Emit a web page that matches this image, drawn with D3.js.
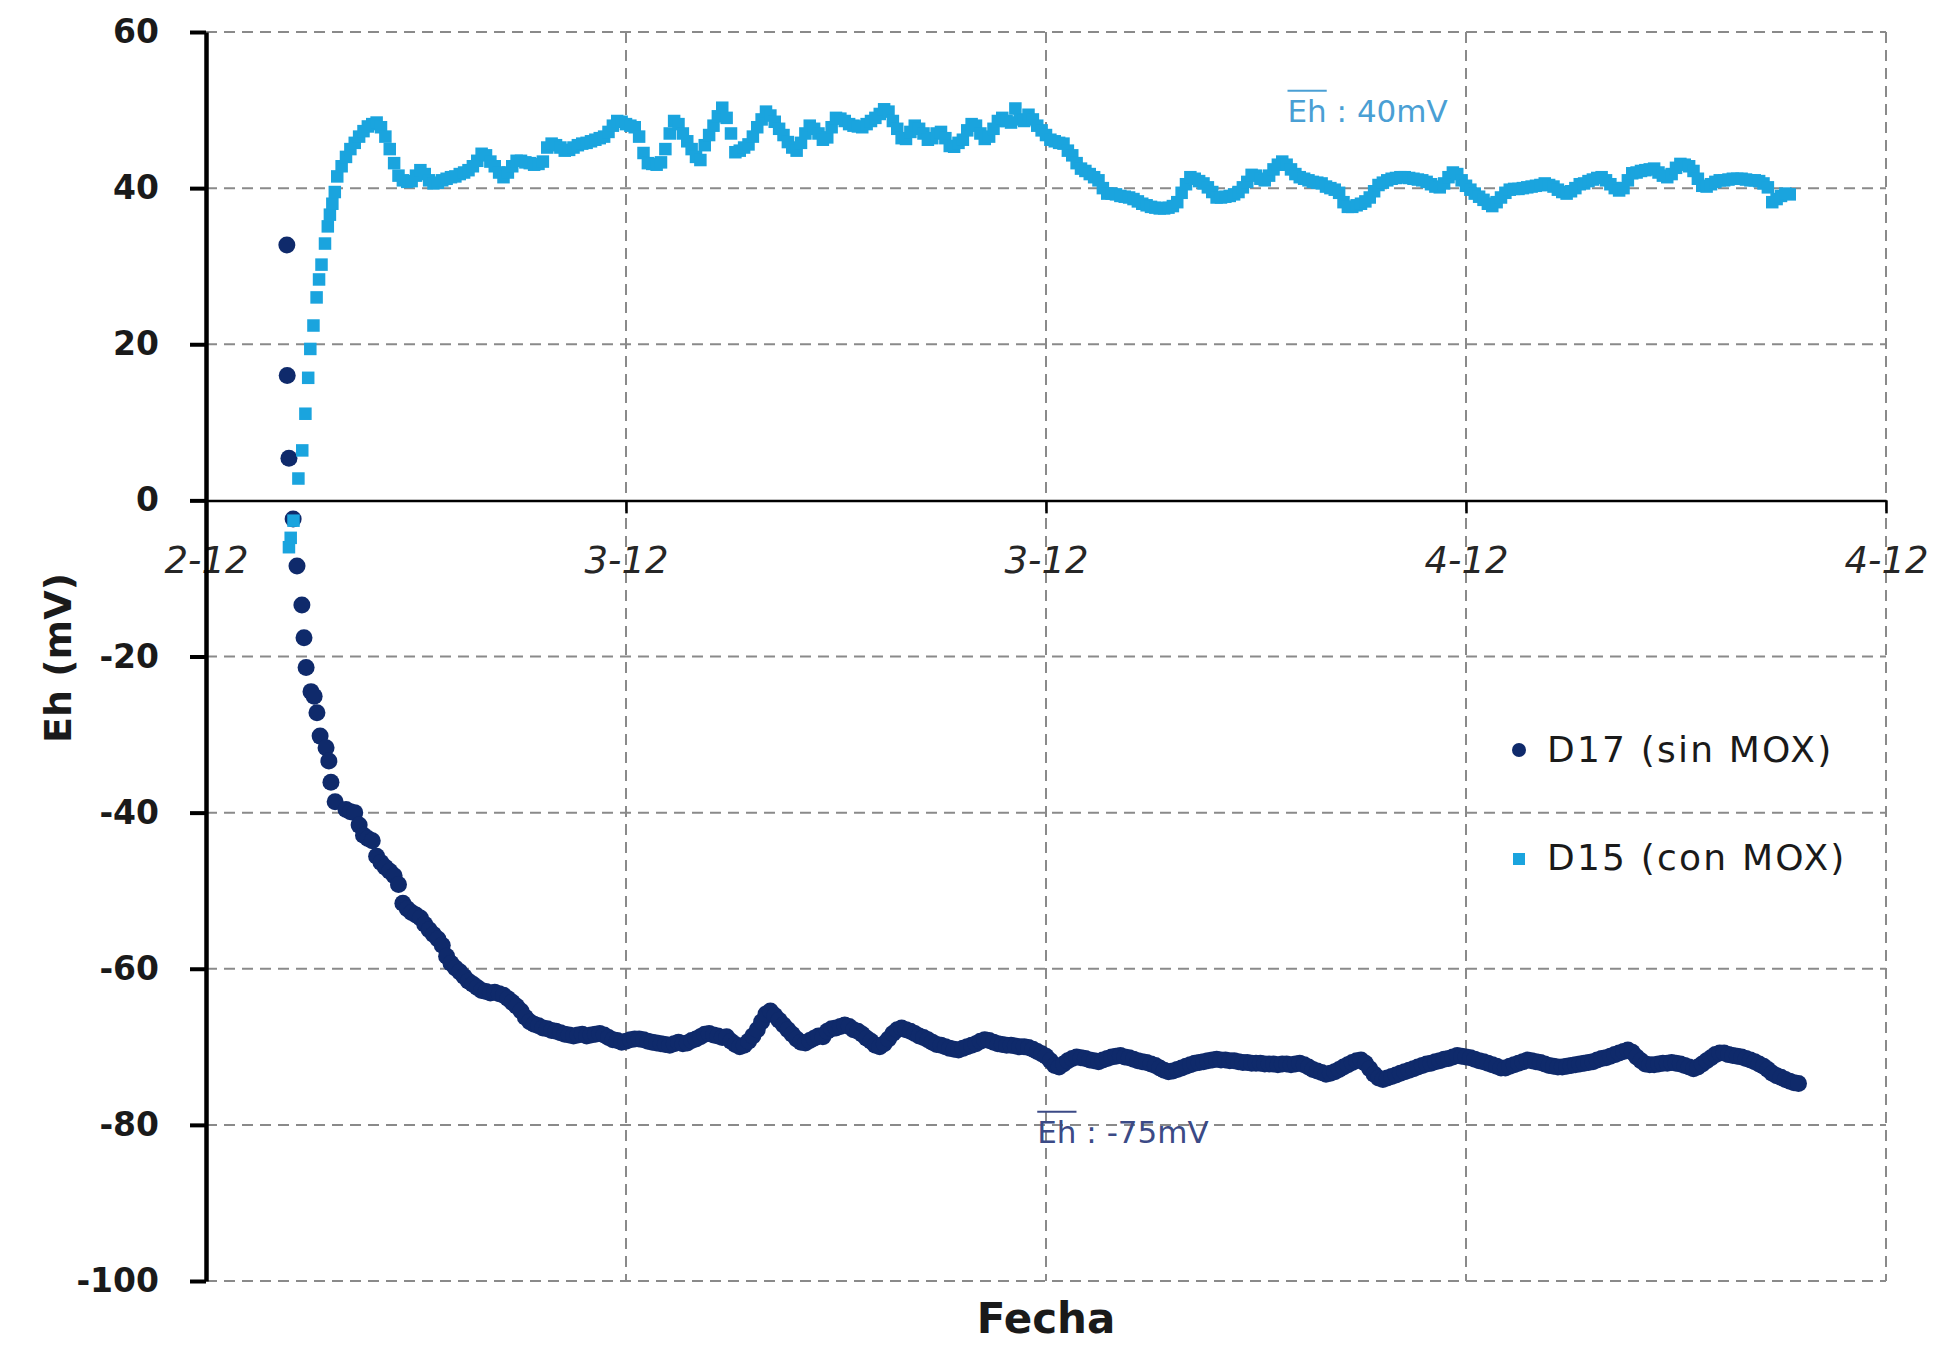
<!DOCTYPE html>
<html>
<head>
<meta charset="utf-8">
<script src="https://cdn.jsdelivr.net/npm/d3@7"></script>
<style>
  html, body { margin: 0; padding: 0; background: #ffffff; }
  svg { display: block; }
</style>
</head>
<body>
<svg id="chart" width="1937" height="1346"></svg>
<script>
// Eh logged in two columns; time is counted in hours from noon of 2-12.
const seriesNames = ["D17 (sin MOX)", "D15 (con MOX)"];
const meanEh = [-75, 40];

const xTickHours = [0, 12, 24, 36, 48];
const xTickLabels = ["2-12", "3-12", "3-12", "4-12", "4-12"];
const yTicks = [-100, -80, -60, -40, -20, 0, 20, 40, 60];

// once the electrodes settle the logger records every 7.5 minutes
const sampleStepHours = 0.125;

// D17 (sin MOX): first readings while the electrode settles
const d17EarlyHours = [2.31, 2.32, 2.37, 2.49, 2.60, 2.74, 2.80, 2.86, 3.00, 3.09, 3.17, 3.26, 3.43, 3.51, 3.57, 3.69];
const d17EarlyMv = [32.7, 16.0, 5.4, -2.4, -8.4, -13.4, -17.6, -21.4, -24.5, -25.1, -27.2, -30.2, -31.7, -33.4, -36.1, -38.6];
// regular readings from hour 4, one row per hour
const d17RegularStart = 4.0;
const d17Mv = [
  -39.6, -39.9, -40.0, -41.6, -42.9, -43.3, -43.6, -45.6,
  -46.4, -47.0, -47.5, -48.1, -49.2, -51.6, -52.3, -52.8,
  -53.1, -53.5, -54.3, -55.0, -55.6, -56.2, -57.0, -58.4,
  -59.3, -59.9, -60.4, -61.0, -61.6, -62.0, -62.4, -62.8,
  -62.9, -63.1, -63.0, -63.2, -63.4, -63.8, -64.3, -64.8,
  -65.4, -66.2, -66.8, -67.1, -67.3, -67.6, -67.7, -67.9,
  -68.0, -68.2, -68.4, -68.5, -68.6, -68.5, -68.4, -68.6,
  -68.5, -68.4, -68.3, -68.5, -68.8, -69.1, -69.2, -69.4,
  -69.3, -69.1, -69.0, -69.0, -69.1, -69.3, -69.4, -69.5,
  -69.6, -69.7, -69.8, -69.6, -69.4, -69.6, -69.5, -69.2,
  -69.0, -68.7, -68.4, -68.3, -68.5, -68.6, -68.8, -68.7,
  -69.3, -69.7, -70.0, -69.8, -69.3, -68.6, -67.8, -66.8,
  -65.8, -65.4, -66.0, -66.6, -67.2, -67.8, -68.4, -69.0,
  -69.4, -69.5, -69.2, -68.9, -68.6, -68.7, -68.0, -67.7,
  -67.6, -67.4, -67.2, -67.4, -67.8, -68.0, -68.4, -68.9,
  -69.3, -69.8, -70.0, -69.6, -69.0, -68.3, -67.8, -67.6,
  -67.8, -68.0, -68.3, -68.6, -68.8, -69.1, -69.4, -69.7,
  -69.8, -70.0, -70.2, -70.3, -70.4, -70.2, -70.0, -69.8,
  -69.6, -69.3, -69.1, -69.2, -69.4, -69.6, -69.7, -69.8,
  -69.8, -69.9, -70.0, -70.0, -70.1, -70.3, -70.6, -70.9,
  -71.2, -71.8, -72.4, -72.6, -72.2, -71.8, -71.5, -71.3,
  -71.4, -71.5, -71.7, -71.8, -71.9, -71.7, -71.5, -71.3,
  -71.2, -71.1, -71.3, -71.4, -71.6, -71.8, -71.9, -72.0,
  -72.2, -72.4, -72.7, -73.0, -73.2, -73.1, -72.9, -72.7,
  -72.5, -72.3, -72.1, -72.0, -71.9, -71.8, -71.7, -71.6,
  -71.7, -71.7, -71.8, -71.8, -71.9, -72.0, -72.0, -72.1,
  -72.1, -72.1, -72.2, -72.2, -72.2, -72.3, -72.2, -72.2,
  -72.3, -72.2, -72.1, -72.3, -72.6, -72.9, -73.1, -73.3,
  -73.5, -73.4, -73.2, -72.9, -72.6, -72.3, -72.0, -71.8,
  -71.7, -72.1, -72.8, -73.5, -74.0, -74.2, -74.0, -73.8,
  -73.6, -73.4, -73.2, -73.0, -72.8, -72.6, -72.4, -72.2,
  -72.1, -71.9, -71.8, -71.6, -71.5, -71.3, -71.1, -71.2,
  -71.3, -71.4, -71.6, -71.8, -71.9, -72.1, -72.3, -72.5,
  -72.7, -72.7, -72.5, -72.3, -72.1, -71.9, -71.7, -71.8,
  -71.9, -72.0, -72.2, -72.4, -72.5, -72.6, -72.6, -72.5,
  -72.4, -72.3, -72.2, -72.1, -72.0, -71.9, -71.7, -71.5,
  -71.4, -71.2, -71.0, -70.8, -70.6, -70.4, -70.7, -71.3,
  -71.8, -72.2, -72.3, -72.3, -72.2, -72.1, -72.1, -72.0,
  -72.1, -72.2, -72.4, -72.6, -72.8, -72.6, -72.2, -71.8,
  -71.4, -71.0, -70.8, -70.8, -71.0, -71.1, -71.2, -71.3,
  -71.5, -71.7, -71.9, -72.2, -72.5, -72.9, -73.4, -73.7,
  -73.9, -74.2, -74.4, -74.6, -74.7
];

// D15 (con MOX): first readings while the electrode settles
const d15EarlyHours = [2.37, 2.42, 2.50, 2.64, 2.75, 2.84, 2.92, 2.98, 3.07, 3.16, 3.23, 3.30, 3.40, 3.48, 3.54, 3.61, 3.68];
const d15EarlyMv = [-6.0, -4.8, -2.6, 2.8, 6.4, 11.1, 15.7, 19.4, 22.4, 26.0, 28.3, 30.2, 32.9, 35.1, 36.6, 38.0, 39.5];
// regular readings from hour 3.75, rows from hour 4 on hold one hour each
const d15RegularStart = 3.75;
const d15Mv = [
  41.5, 42.8,
  44.0, 45.0, 45.8, 46.6, 47.3, 47.9, 48.2, 48.4,
  47.8, 46.6, 45.0, 43.2, 41.6, 41.0, 40.8, 40.9,
  41.6, 42.3, 41.8, 41.0, 40.6, 40.7, 41.0, 41.2,
  41.4, 41.5, 41.8, 42.0, 42.3, 42.8, 43.5, 44.4,
  44.2, 43.4, 42.8, 42.0, 41.4, 42.0, 42.8, 43.5,
  43.5, 43.3, 43.2, 43.0, 43.1, 43.4, 45.2, 45.7,
  45.5, 45.2, 44.8, 44.9, 45.2, 45.5, 45.7, 45.8,
  46.0, 46.2, 46.4, 46.6, 47.2, 48.0, 48.6, 48.5,
  48.2, 48.0, 47.8, 46.6, 44.5, 43.2, 43.1, 43.0,
  43.3, 45.0, 47.0, 48.6, 48.2, 47.0, 46.0, 45.0,
  44.0, 43.6, 45.5, 46.8, 48.0, 49.2, 50.3, 49.0,
  47.0, 44.6, 44.8, 45.2, 45.6, 46.6, 47.8, 48.8,
  49.8, 49.3, 48.5, 47.6, 46.8, 45.9, 45.2, 44.8,
  45.8, 47.0, 48.0, 47.6, 47.0, 46.2, 46.5, 47.8,
  49.0, 48.9, 48.6, 48.2, 48.0, 47.9, 47.8, 48.2,
  48.6, 49.0, 49.5, 50.1, 49.8, 48.6, 47.6, 46.4,
  46.3, 47.2, 48.0, 47.6, 47.0, 46.2, 46.4, 47.0,
  47.2, 46.4, 45.4, 45.3, 45.8, 46.2, 47.4, 48.2,
  48.0, 47.0, 46.3, 46.6, 47.6, 48.6, 49.0, 48.6,
  48.4, 50.2, 48.8, 48.6, 49.4, 48.8, 48.0, 47.4,
  46.8, 46.2, 46.0, 45.8, 45.7, 44.8, 44.2, 43.2,
  42.5, 42.2, 41.8, 41.4, 41.0, 40.0, 39.3, 39.3,
  39.2, 39.0, 38.9, 38.8, 38.6, 38.3, 38.0, 37.8,
  37.6, 37.5, 37.4, 37.4, 37.5, 37.7, 38.2, 39.4,
  40.5, 41.4, 41.2, 40.9, 40.6, 40.1, 39.5, 38.8,
  38.8, 38.9, 39.0, 39.2, 39.5, 40.1, 40.8, 41.7,
  41.6, 41.2, 41.0, 41.6, 42.4, 43.0, 43.4, 43.0,
  42.4, 41.8, 41.4, 41.2, 41.0, 40.8, 40.7, 40.6,
  40.2, 40.0, 39.8, 39.4, 38.2, 37.6, 37.6, 37.8,
  38.0, 38.3, 38.8, 39.6, 40.4, 40.7, 41.0, 41.2,
  41.3, 41.4, 41.4, 41.3, 41.2, 41.1, 41.0, 40.8,
  40.5, 40.2, 40.1, 40.6, 41.4, 42.0, 41.8, 41.0,
  40.3, 39.8, 39.3, 38.9, 38.5, 38.0, 37.7, 38.2,
  38.8, 39.4, 39.8, 39.9, 39.9, 40.0, 40.1, 40.2,
  40.3, 40.4, 40.6, 40.4, 40.2, 39.8, 39.5, 39.3,
  39.6, 40.0, 40.5, 40.6, 40.9, 41.1, 41.3, 41.4,
  41.0, 40.5, 40.0, 39.7, 40.0, 41.0, 41.9, 42.0,
  42.2, 42.3, 42.4, 42.5, 42.0, 41.6, 41.4, 41.8,
  42.6, 43.1, 43.0, 42.8, 42.2, 41.2, 40.3, 40.2,
  40.5, 40.8, 41.0, 41.0, 41.1, 41.2, 41.2, 41.2,
  41.1, 41.0, 41.0, 40.9, 40.6, 40.1, 38.2, 38.6,
  39.0, 39.3, 39.2
];

// ---------------------------------------------------------------------------
function buildSeries(earlyHours, earlyMv, regularStart, regularMv) {
  const pts = earlyHours.map((h, i) => ({ h, v: earlyMv[i] }));
  regularMv.forEach((v, i) => pts.push({ h: regularStart + i * sampleStepHours, v }));
  return pts;
}
const d17 = buildSeries(d17EarlyHours, d17EarlyMv, d17RegularStart, d17Mv);
const d15 = buildSeries(d15EarlyHours, d15EarlyMv, d15RegularStart, d15Mv);

const NAVY = "#0f2a6b";
const CYAN = "#1aa4de";
const FONT = "'DejaVu Sans', 'Liberation Sans', sans-serif";

const svg = d3.select("#chart");
const x = d3.scaleLinear().domain([0, 48]).range([206, 1886]);
const y = d3.scaleLinear().domain([-100, 60]).range([1281, 32]);

// dashed grid
const grid = svg.append("g").attr("stroke", "#8a8a8a").attr("stroke-width", 2)
  .attr("stroke-dasharray", "11,7").attr("fill", "none");
grid.selectAll("line.h").data(yTicks.filter(t => t !== 0)).join("line")
  .attr("class", "h")
  .attr("x1", x(0)).attr("x2", x(48))
  .attr("y1", d => y(d)).attr("y2", d => y(d));
grid.selectAll("line.v").data(xTickHours.slice(1)).join("line")
  .attr("class", "v")
  .attr("x1", d => x(d)).attr("x2", d => x(d))
  .attr("y1", y(60)).attr("y2", y(-100));

// horizontal axis through 0 mV
const xAxis = svg.append("g")
  .attr("transform", `translate(0,${y(0)})`)
  .call(d3.axisBottom(x)
    .tickValues(xTickHours)
    .tickFormat((d, i) => xTickLabels[i])
    .tickSize(13).tickSizeOuter(0).tickPadding(33));
xAxis.select(".domain").attr("stroke", "#000").attr("stroke-width", 2.5);
xAxis.selectAll(".tick line").attr("stroke", "#000").attr("stroke-width", 2.5);
xAxis.selectAll(".tick text")
  .attr("font-family", FONT).attr("font-size", 37).attr("font-style", "italic")
  .attr("fill", "#262626");

// vertical axis
const yAxis = svg.append("g")
  .attr("transform", `translate(${x(0)},0)`)
  .call(d3.axisLeft(y)
    .tickValues(yTicks)
    .tickFormat(d => String(d))
    .tickSize(16).tickSizeOuter(0).tickPadding(31));
yAxis.select(".domain").attr("stroke", "#000").attr("stroke-width", 4.5);
yAxis.selectAll(".tick line").attr("stroke", "#000").attr("stroke-width", 4);
yAxis.selectAll(".tick text")
  .attr("font-family", FONT).attr("font-size", 33).attr("font-weight", "bold")
  .attr("fill", "#1a1a1a");

// series: D17 circles first, D15 squares on top
svg.append("g").selectAll("circle").data(d17).join("circle")
  .attr("cx", d => x(d.h)).attr("cy", d => y(d.v)).attr("r", 8.5)
  .attr("fill", NAVY);

const sq = 12.5;
svg.append("g").selectAll("rect").data(d15).join("rect")
  .attr("x", d => x(d.h) - sq / 2).attr("y", d => y(d.v) - sq / 2)
  .attr("width", sq).attr("height", sq)
  .attr("fill", CYAN);

// mean value notes with an overlined "Eh"
function meanNote(px, baseline, value, color) {
  const t = svg.append("text")
    .attr("x", px).attr("y", baseline)
    .attr("font-family", FONT).attr("font-size", 31)
    .attr("fill", color)
    .text(`Eh : ${value}mV`);
  const w = t.node().getSubStringLength(0, 2);
  svg.append("line")
    .attr("x1", px).attr("x2", px + w)
    .attr("y1", baseline - 31).attr("y2", baseline - 31)
    .attr("stroke", color).attr("stroke-width", 2);
}
meanNote(x(30.9), y(48.5), meanEh[1], "#4a9fd4");
meanNote(x(23.75), y(-82.3), meanEh[0], "#3b4a86");

// legend
const legend = svg.append("g");
legend.append("circle").attr("cx", 1519).attr("cy", 750).attr("r", 7).attr("fill", NAVY);
legend.append("rect").attr("x", 1513).attr("y", 853).attr("width", 12).attr("height", 12).attr("fill", CYAN);
legend.selectAll("text").data(seriesNames).join("text")
  .attr("x", 1547).attr("y", (d, i) => [762, 870][i])
  .attr("font-family", FONT).attr("font-size", 36)
  .attr("letter-spacing", 2.2)
  .attr("fill", "#1a1a1a")
  .text(d => d);

// axis titles
svg.append("text")
  .attr("transform", `translate(58,658) rotate(-90)`)
  .attr("text-anchor", "middle").attr("dy", "0.35em")
  .attr("font-family", FONT).attr("font-size", 38).attr("font-weight", "bold")
  .attr("fill", "#1a1a1a")
  .text("Eh (mV)");
svg.append("text")
  .attr("x", x(24)).attr("y", 1333)
  .attr("text-anchor", "middle")
  .attr("font-family", FONT).attr("font-size", 42).attr("font-weight", "bold")
  .attr("fill", "#1a1a1a")
  .text("Fecha");
</script>
</body>
</html>
